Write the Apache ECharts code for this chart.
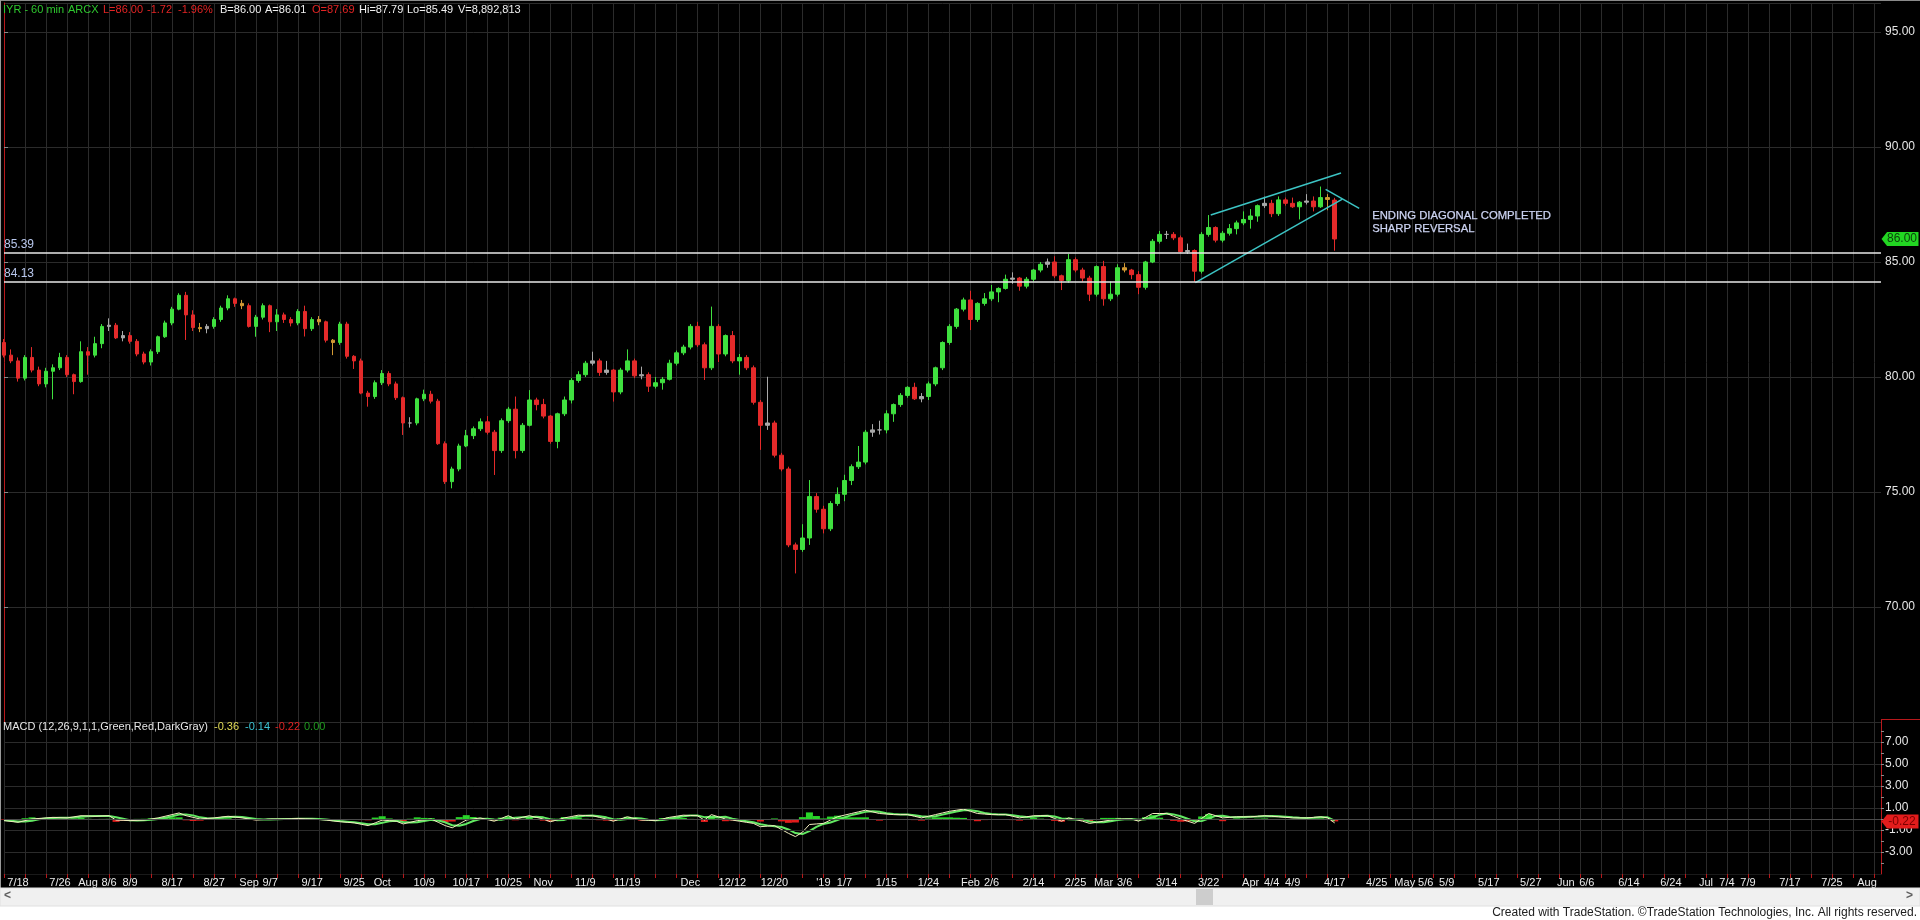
<!DOCTYPE html>
<html><head><meta charset="utf-8">
<script src="https://cdn.jsdelivr.net/npm/echarts@6/dist/echarts.min.js"></script>
<style>html,body{margin:0;padding:0;background:#000;overflow:hidden}#c{width:1920px;height:920px}</style>
</head><body><div id="c"></div>
<script>
// ---------- calendar ----------
const firstDay = '2018-07-16';
const lastAxisDay = '2019-08-05';
const marketHolidays = ['2018-09-03','2018-11-22','2018-12-05','2018-12-25','2019-01-01','2019-01-21','2019-02-18'];

// ---------- tick labels on the date axis ----------
const dateTicks = [
 ['2018-07-18','7/18'],['2018-07-26','7/26'],['2018-08-01','Aug'],['2018-08-06','8/6'],['2018-08-09','8/9'],
 ['2018-08-17','8/17'],['2018-08-27','8/27'],['2018-09-04','Sep'],['2018-09-07','9/7'],['2018-09-17','9/17'],
 ['2018-09-25','9/25'],['2018-10-01','Oct'],['2018-10-09','10/9'],['2018-10-17','10/17'],['2018-10-25','10/25'],
 ['2018-11-01','Nov'],['2018-11-09','11/9'],['2018-11-19','11/19'],['2018-12-03','Dec'],['2018-12-12','12/12'],
 ['2018-12-20','12/20'],['2019-01-02',"'19"],['2019-01-07','1/7'],['2019-01-15','1/15'],['2019-01-24','1/24'],
 ['2019-02-01','Feb'],['2019-02-06','2/6'],['2019-02-14','2/14'],['2019-02-25','2/25'],['2019-03-01','Mar'],
 ['2019-03-06','3/6'],['2019-03-14','3/14'],['2019-03-22','3/22'],['2019-04-01','Apr'],['2019-04-04','4/4'],
 ['2019-04-09','4/9'],['2019-04-17','4/17'],['2019-04-25','4/25'],['2019-05-01','May'],['2019-05-06','5/6'],
 ['2019-05-09','5/9'],['2019-05-17','5/17'],['2019-05-27','5/27'],['2019-06-03','Jun'],['2019-06-06','6/6'],
 ['2019-06-14','6/14'],['2019-06-24','6/24'],['2019-07-01','Jul'],['2019-07-04','7/4'],['2019-07-09','7/9'],
 ['2019-07-17','7/17'],['2019-07-25','7/25'],['2019-08-01','Aug']
];

// ---------- daily price bars (IYR), 2018-07-16 .. 2019-04-17 ----------
const priceOpen = [
81.50,80.95,80.70,79.95,80.85,80.30,79.70,80.25,80.40,80.85,80.10,79.80,81.10,80.95,81.45,82.20,82.25,81.70,81.80,81.55,
81.00,80.65,81.10,81.75,82.35,82.95,83.55,82.70,82.15,82.10,82.20,82.50,83.00,83.40,83.20,83.10,82.20,82.60,83.10,82.40,
82.70,82.50,82.35,82.85,82.10,82.50,82.40,81.60,81.50,82.30,80.90,80.70,79.30,79.15,79.75,80.15,79.70,79.10,78.00,78.00,
79.05,79.25,78.95,77.10,75.45,76.00,77.00,77.45,77.75,78.05,77.60,76.80,78.10,78.60,76.80,77.90,79.00,78.80,78.30,77.20,
78.40,79.00,79.85,80.10,80.60,80.70,80.20,80.30,79.35,80.30,80.70,80.05,80.10,79.60,79.75,79.90,80.60,81.05,81.30,82.20,
81.40,80.40,82.20,81.00,81.80,80.70,80.85,80.40,78.90,77.90,78.00,76.60,76.00,72.70,72.50,73.00,74.80,74.25,73.40,74.50,
74.90,75.50,76.10,76.30,77.60,77.70,77.70,78.40,78.80,79.20,79.55,79.05,79.15,79.70,80.40,81.50,82.20,82.95,83.35,82.50,
83.20,83.40,83.70,83.85,84.25,84.30,83.95,84.25,84.65,84.90,85.00,84.40,84.20,85.10,84.65,84.30,83.60,84.80,83.40,83.60,
84.75,84.65,84.45,83.90,85.00,85.90,86.20,86.20,86.05,85.45,85.50,84.60,86.20,86.50,85.95,86.25,86.45,86.70,86.85,87.00,
87.45,87.55,87.10,87.70,87.55,87.40,87.60,87.65,87.40,87.80,87.69
];
const priceHigh = [
81.65,81.20,80.85,80.95,81.30,80.45,80.40,80.55,81.05,80.95,80.15,81.55,81.30,81.75,82.30,82.55,82.35,82.00,81.95,81.65,
81.10,81.20,81.80,82.45,83.05,83.64,83.70,82.90,82.35,82.30,82.60,83.10,83.55,83.45,83.35,83.20,82.70,83.20,83.15,82.95,
82.80,82.60,82.95,83.10,82.60,82.65,82.45,81.65,82.40,82.40,80.95,80.80,79.40,79.85,80.30,80.25,79.80,79.15,78.25,79.10,
79.45,79.40,79.05,77.20,76.10,77.10,77.70,77.85,78.20,78.30,77.70,78.20,78.70,79.15,78.00,79.43,79.10,79.05,78.35,78.45,
79.15,79.95,80.25,80.70,81.10,80.80,80.70,80.35,80.40,81.20,80.80,80.45,80.20,80.00,80.00,80.75,81.15,81.40,82.30,82.40,
81.50,83.06,82.30,81.85,82.00,81.00,80.95,80.50,79.00,80.01,78.10,76.70,76.10,72.80,73.60,75.52,74.95,74.40,74.60,75.20,
75.75,76.20,77.00,77.70,77.95,78.10,78.55,78.85,79.30,79.60,79.75,79.30,79.80,80.45,81.55,82.30,83.00,83.45,83.75,83.25,
83.65,84.00,83.90,84.45,84.55,84.35,84.35,84.70,85.00,85.15,85.25,84.45,85.35,85.20,84.75,84.40,84.85,85.05,84.15,84.90,
84.95,84.70,84.60,85.05,86.00,86.35,86.35,86.30,86.15,85.80,85.55,86.30,87.04,86.55,86.35,86.65,86.80,87.20,87.30,87.50,
87.84,87.70,87.85,87.80,87.80,87.65,87.95,87.85,88.28,87.95,87.79
];
const priceLow = [
80.85,80.60,79.80,79.85,80.20,79.60,79.55,79.03,80.30,80.00,79.25,79.75,80.10,80.85,81.25,82.00,81.65,81.55,81.45,80.90,
80.55,80.50,81.00,81.70,82.25,82.90,81.61,82.00,81.95,81.90,82.10,82.40,82.90,83.05,82.95,82.15,81.75,82.50,81.95,82.00,
82.35,82.20,82.25,81.76,82.00,82.25,81.50,80.95,81.40,80.80,80.35,79.25,78.71,79.05,79.65,79.60,79.00,77.48,77.80,77.90,
78.95,78.85,77.05,75.35,75.16,75.90,76.95,77.30,77.65,77.50,75.74,76.70,78.00,76.46,76.70,77.85,78.55,78.20,77.10,76.90,
78.30,78.85,79.75,80.00,80.50,80.05,80.10,78.93,79.25,80.20,79.95,79.90,79.35,79.50,79.45,79.85,80.50,80.95,81.20,81.30,
79.87,80.30,80.65,80.90,80.60,80.10,80.30,78.80,76.83,77.70,76.50,75.90,72.60,71.46,72.40,72.70,74.10,73.20,73.30,74.40,
74.60,75.30,76.00,76.20,77.40,77.50,77.55,78.05,78.70,79.10,79.00,78.90,79.00,79.60,80.30,81.40,82.10,82.85,82.04,82.40,
83.10,83.30,83.25,83.80,84.05,83.75,83.85,84.15,84.55,84.75,84.30,83.78,84.10,84.55,84.15,83.30,83.50,83.10,83.30,83.50,
84.55,84.25,83.60,83.80,84.95,85.80,86.00,85.95,85.40,85.35,84.14,84.50,86.10,85.85,85.85,86.15,86.20,86.60,86.45,86.75,
87.35,86.95,87.00,87.45,87.35,86.85,87.50,87.20,87.35,87.25,85.49
];
const priceClose = [
80.95,80.70,79.95,80.85,80.30,79.70,80.25,80.40,80.85,80.10,79.80,81.10,80.95,81.45,82.20,82.25,81.70,81.80,81.55,81.00,
80.65,81.10,81.75,82.35,82.95,83.55,82.70,82.15,82.10,82.20,82.50,83.00,83.40,83.20,83.10,82.20,82.60,83.10,82.40,82.70,
82.50,82.35,82.85,82.10,82.50,82.40,81.60,81.50,82.30,80.90,80.70,79.30,79.15,79.75,80.15,79.70,79.10,78.00,78.00,79.05,
79.25,78.95,77.10,75.45,76.00,77.00,77.45,77.75,78.05,77.60,76.80,78.10,78.60,76.80,77.90,79.00,78.80,78.30,77.20,78.40,
79.00,79.85,80.10,80.60,80.70,80.20,80.30,79.35,80.30,80.70,80.05,80.10,79.60,79.75,79.90,80.60,81.05,81.30,82.20,81.40,
80.40,82.20,81.00,81.80,80.70,80.85,80.40,78.90,77.90,78.00,76.60,76.00,72.70,72.50,73.00,74.80,74.25,73.40,74.50,74.90,
75.50,76.10,76.30,77.60,77.70,77.70,78.40,78.80,79.20,79.55,79.05,79.15,79.70,80.40,81.50,82.20,82.95,83.35,82.50,83.20,
83.40,83.70,83.85,84.25,84.30,83.95,84.25,84.65,84.90,85.00,84.40,84.20,85.10,84.65,84.30,83.60,84.80,83.40,83.60,84.75,
84.65,84.45,83.90,85.00,85.90,86.20,86.20,86.05,85.45,85.50,84.60,86.20,86.50,85.95,86.25,86.45,86.70,86.85,87.00,87.45,
87.55,87.10,87.70,87.55,87.40,87.60,87.65,87.40,87.80,87.72,86.00
];

// ---------- MACD (12,26,9) panel, read per day ----------
const macdLine = [
-0.15,-0.22,-0.30,-0.15,0.00,0.05,0.10,0.15,0.12,0.10,0.20,0.30,0.28,0.25,0.28,0.30,-0.10,-0.12,-0.15,-0.12,
-0.10,0.00,0.10,0.25,0.40,0.55,0.30,0.15,0.00,0.05,0.10,0.18,0.25,0.18,0.10,0.00,-0.10,-0.05,0.00,0.00,
0.00,0.02,0.05,0.02,0.00,-0.05,-0.10,-0.18,-0.25,-0.30,-0.35,-0.48,-0.60,-0.35,-0.10,-0.15,-0.20,-0.45,-0.30,-0.15,
-0.08,0.00,-0.30,-0.60,-0.80,-0.45,-0.10,0.00,0.10,-0.05,-0.20,0.05,0.30,0.00,0.15,0.30,0.15,0.00,-0.25,-0.08,
0.10,0.22,0.35,0.32,0.30,0.15,0.00,-0.20,0.00,0.20,0.05,-0.10,-0.12,-0.15,0.00,0.15,0.25,0.35,0.32,0.30,
-0.10,0.40,0.20,0.00,-0.10,-0.20,-0.30,-0.40,-0.70,-0.65,-0.60,-0.95,-1.30,-1.60,-1.20,-0.50,-0.45,-0.40,-0.10,0.20,
0.35,0.50,0.65,0.80,0.65,0.50,0.45,0.40,0.40,0.40,0.25,0.10,0.25,0.40,0.55,0.70,0.80,0.90,0.70,0.50,
0.45,0.40,0.40,0.40,0.25,0.10,0.20,0.30,0.30,0.30,0.05,-0.20,0.10,-0.05,-0.20,-0.40,-0.30,-0.20,-0.10,0.00,
0.00,0.00,-0.20,0.15,0.50,0.50,0.50,0.25,0.00,-0.20,-0.40,0.05,0.50,0.30,0.10,0.15,0.20,0.20,0.20,0.25,
0.30,0.25,0.20,0.15,0.10,0.10,0.10,0.15,0.20,0.10,-0.36
];
const macdAvg = [
-0.10,-0.15,-0.22,-0.22,-0.15,-0.03,0.05,0.10,0.12,0.12,0.14,0.20,0.26,0.28,0.27,0.28,0.16,0.03,-0.12,-0.13,
-0.12,-0.07,0.00,0.12,0.25,0.40,0.42,0.33,0.15,0.07,0.05,0.11,0.18,0.20,0.18,0.09,0.00,-0.05,-0.05,-0.02,
0.00,0.01,0.02,0.03,0.02,-0.01,-0.05,-0.11,-0.18,-0.24,-0.30,-0.38,-0.48,-0.48,-0.35,-0.20,-0.15,-0.27,-0.32,-0.30,
-0.18,-0.08,-0.13,-0.30,-0.57,-0.62,-0.45,-0.18,0.00,0.02,-0.05,-0.07,0.05,0.12,0.15,0.15,0.20,0.15,-0.03,-0.11,
-0.08,0.08,0.22,0.30,0.32,0.26,0.15,-0.02,-0.07,0.00,0.08,0.05,-0.06,-0.12,-0.09,0.00,0.13,0.25,0.31,0.32,
0.17,0.20,0.17,0.20,0.03,-0.10,-0.20,-0.30,-0.47,-0.58,-0.65,-0.73,-0.95,-1.28,-1.37,-1.10,-0.72,-0.45,-0.32,-0.10,
0.15,0.35,0.50,0.65,0.70,0.65,0.53,0.45,0.42,0.40,0.35,0.25,0.20,0.25,0.40,0.55,0.68,0.80,0.80,0.70,
0.55,0.45,0.42,0.40,0.35,0.25,0.18,0.20,0.27,0.30,0.22,0.05,-0.02,-0.05,-0.05,-0.22,-0.30,-0.30,-0.20,-0.10,
-0.03,0.00,-0.07,-0.02,0.15,0.38,0.50,0.42,0.25,0.02,-0.20,-0.18,0.05,0.28,0.30,0.18,0.15,0.18,0.20,0.22,
0.25,0.27,0.25,0.20,0.15,0.12,0.10,0.12,0.15,0.15,-0.14
];
const macdDiff = [
-0.05,-0.07,-0.08,0.07,0.15,0.08,0.05,0.05,0.00,-0.02,0.06,0.10,0.02,-0.03,0.01,0.02,-0.26,-0.15,-0.03,0.01,
0.02,0.07,0.10,0.13,0.15,0.15,-0.12,-0.18,-0.15,-0.02,0.05,0.07,0.07,-0.02,-0.08,-0.09,-0.10,0.00,0.05,0.02,
0.00,0.01,0.03,-0.01,-0.02,-0.04,-0.05,-0.07,-0.07,-0.06,-0.05,-0.10,-0.12,0.13,0.25,0.05,-0.05,-0.18,0.02,0.15,
0.10,0.08,-0.17,-0.30,-0.23,0.17,0.35,0.18,0.10,-0.07,-0.15,0.12,0.25,-0.12,0.00,0.15,-0.05,-0.15,-0.22,0.03,
0.18,0.14,0.13,0.02,-0.02,-0.11,-0.15,-0.18,0.07,0.20,-0.03,-0.15,-0.06,-0.03,0.09,0.15,0.12,0.10,0.01,-0.02,
-0.27,0.20,0.03,-0.20,-0.13,-0.10,-0.10,-0.10,-0.23,-0.07,0.05,-0.22,-0.35,-0.32,0.17,0.60,0.27,0.05,0.22,0.30,
0.20,0.15,0.15,0.15,-0.05,-0.15,-0.08,-0.05,-0.02,0.00,-0.10,-0.15,0.05,0.15,0.15,0.15,0.12,0.10,-0.10,-0.20,
-0.10,-0.05,-0.02,0.00,-0.10,-0.15,0.02,0.10,0.03,0.00,-0.17,-0.25,0.12,0.00,-0.15,-0.18,0.00,0.10,0.10,0.10,
0.03,0.00,-0.13,0.17,0.35,0.12,0.00,-0.17,-0.25,-0.22,-0.20,0.23,0.45,0.02,-0.20,-0.03,0.05,0.02,0.00,0.03,
0.05,-0.02,-0.05,-0.05,-0.05,-0.02,0.00,0.03,0.05,-0.05,-0.22
];
const macdGridLevels = [-3,-1,1,3,5,7];

// ---------- drawn studies (day index along the axis, price) ----------
const supportLevels = [85.39, 84.13];
const lastPrice = 86.00;
const lastMacdDiff = -0.22;
const trendUpper = [[172.3, 87.04], [190.9, 88.87]];
const trendLower = [[170.1, 84.10], [191.1, 87.73]];
const trendBreak = [[188.7, 88.16], [193.5, 87.33]];

// ---------- texts ----------
const headerTokens = [
 ['IYR - 60 min', '#2ec82e', 3], ['ARCX', '#2ec82e', 68], ['L=86.00', '#e42424', 103], ['-1.72', '#e42424', 147],
 ['-1.96%', '#e42424', 178], ['B=86.00', '#f0f0f0', 220], ['A=86.01', '#f0f0f0', 265], ['O=87.69', '#e42424', 312],
 ['Hi=87.79', '#f0f0f0', 359], ['Lo=85.49', '#f0f0f0', 407], ['V=8,892,813', '#f0f0f0', 458]
];
const macdTokens = [
 ['MACD (12,26,9,1,1,Green,Red,DarkGray)', '#e6e6e6', 3], ['-0.36', '#e0da56', 214], ['-0.14', '#3cc4d4', 245],
 ['-0.22', '#e02222', 275], ['0.00', '#1f9a1f', 304]
];
const noteLines = ['ENDING DIAGONAL COMPLETED', 'SHARP REVERSAL'];
const footerText = 'Created with TradeStation. \u00A9TradeStation Technologies, Inc. All rights reserved.';

// ---------- build ----------
function buildDays() {
  const out = [];
  const [y0, m0, d0] = firstDay.split('-').map(Number);
  const [y1, m1, d1] = lastAxisDay.split('-').map(Number);
  let t = Date.UTC(y0, m0 - 1, d0);
  const end = Date.UTC(y1, m1 - 1, d1);
  while (t <= end) {
    const dt = new Date(t);
    const wd = dt.getUTCDay();
    const s = dt.toISOString().slice(0, 10);
    if (wd !== 0 && wd !== 6 && marketHolidays.indexOf(s) < 0) out.push(s);
    t += 86400000;
  }
  return out;
}
const days = buildDays();
const lastIdx = days.length - 1;
const tickMap = {};
dateTicks.forEach(([d, l]) => { tickMap[d] = l; });

const UP = '#3fe03f', DOWN = '#e42a2a', FLAT_UP = '#a9a9a9', FLAT_DN = '#d39a34';
const candleData = priceOpen.map((o, i) => {
  const c = priceClose[i];
  const item = { value: [o, c, priceLow[i], priceHigh[i]] };
  if (Math.abs(c - o) < 0.12) {
    const col = c >= o ? FLAT_UP : FLAT_DN;
    item.itemStyle = { color: col, color0: col, borderColor: col, borderColor0: col };
  }
  return item;
});

const FONT = 'Liberation Sans, Arial, sans-serif';
const GRID_COLOR = '#2b2b2b';
const AXIS_RED = '#b8191c';
const TAG_PATH = 'path://M0,6.5 L6,0 L40,0 L40,13 L6,13 Z';
const gridEvery3 = (idx) => idx % 3 === 0;

function priceTag(value, fill, textColor) {
  return {
    coord: [days[lastIdx], value], symbol: TAG_PATH, symbolSize: [37, 14], symbolOffset: [19, 0],
    itemStyle: { color: fill },
    label: { show: true, position: 'inside', offset: [2, 0], formatter: value.toFixed(2), color: textColor,
      fontSize: 12, fontFamily: FONT }
  };
}

const graphics = [];
headerTokens.forEach(([t, c, x]) => graphics.push({ type: 'text', left: x, top: 4, z: 100,
  style: { text: t, fill: c, font: '11px ' + FONT } }));
macdTokens.forEach(([t, c, x]) => graphics.push({ type: 'text', left: x, top: 721, z: 100,
  style: { text: t, fill: c, font: '11px ' + FONT } }));
noteLines.forEach((t, i) => graphics.push({ type: 'text', left: 1372, top: 210 + i * 13, z: 100,
  style: { text: t, fill: '#ccd3f2', font: '11.3px ' + FONT, stroke: '#ccd3f2', lineWidth: 0.25 } }));
// window chrome: borders, scrollbar, footer
graphics.push({ type: 'rect', shape: { x: 0, y: 0, width: 1920, height: 1 }, style: { fill: '#8a8a8a' }, z: 90 });
graphics.push({ type: 'rect', shape: { x: 0, y: 0, width: 1, height: 888 }, style: { fill: '#9a9a9a' }, z: 90 });
graphics.push({ type: 'rect', shape: { x: 1881, y: 719, width: 39, height: 1 }, style: { fill: AXIS_RED }, z: 90 });
graphics.push({ type: 'rect', shape: { x: 0, y: 888, width: 1920, height: 32 }, style: { fill: '#ffffff' }, z: 90 });
graphics.push({ type: 'rect', shape: { x: 0, y: 888, width: 1920, height: 18 }, style: { fill: '#f0f0f0', stroke: '#e0e0e0' }, z: 91 });
graphics.push({ type: 'rect', shape: { x: 1196, y: 889, width: 17, height: 16 }, style: { fill: '#cdcdcd' }, z: 92 });
graphics.push({ type: 'text', left: 4, top: 890, z: 92, style: { text: '<', fill: '#606060', font: 'bold 12px ' + FONT } });
graphics.push({ type: 'text', left: 1906, top: 890, z: 92, style: { text: '>', fill: '#606060', font: 'bold 12px ' + FONT } });
graphics.push({ type: 'text', right: 3, top: 907, z: 92, style: { text: footerText, fill: '#202020', font: '12px ' + FONT } });

const option = {
  backgroundColor: '#000000',
  animation: false,
  textStyle: { fontFamily: FONT },
  grid: [
    { left: 4, right: 39, top: 3, height: 719 },
    { left: 4, right: 39, top: 720, height: 154 }
  ],
  xAxis: [
    { type: 'category', gridIndex: 0, data: days, boundaryGap: false,
      axisLine: { show: false, onZero: false }, axisTick: { show: false }, axisLabel: { show: false },
      splitLine: { show: true, interval: gridEvery3, lineStyle: { color: GRID_COLOR, width: 1 } } },
    { type: 'value', gridIndex: 0, min: 0, max: lastIdx, show: false },
    { type: 'category', gridIndex: 1, data: days, boundaryGap: false, position: 'bottom',
      axisLine: { show: true, onZero: false, lineStyle: { color: '#1a1a1a' } },
      axisTick: { show: true, interval: gridEvery3, length: 4, inside: false, lineStyle: { color: AXIS_RED } },
      axisLabel: { show: true, interval: (i, v) => tickMap[v] !== undefined, formatter: (v) => tickMap[v] || '',
        color: '#ececec', fontSize: 11, margin: 3, fontFamily: FONT },
      splitLine: { show: true, interval: gridEvery3, lineStyle: { color: GRID_COLOR, width: 1 } } }
  ],
  yAxis: [
    { type: 'value', gridIndex: 0, position: 'right', min: 65, max: 96.26, interval: 5,
      axisLine: { show: true, lineStyle: { color: AXIS_RED, width: 1 } },
      axisTick: { show: true, length: 4, lineStyle: { color: '#8a8a8a' } },
      axisLabel: { color: '#e6e6e6', fontSize: 12, margin: 4, showMinLabel: false, showMaxLabel: false,
        formatter: (v) => v.toFixed(2) },
      splitLine: { show: true, lineStyle: { color: GRID_COLOR, width: 1 } } },
    { type: 'value', gridIndex: 1, position: 'right', min: -5, max: 9, interval: 1,
      axisLine: { show: true, lineStyle: { color: AXIS_RED, width: 1 } },
      axisTick: { show: true, length: 3, lineStyle: { color: '#8a8a8a' } },
      axisLabel: { color: '#e6e6e6', fontSize: 12, margin: 4, showMinLabel: false, showMaxLabel: false,
        formatter: (v) => (macdGridLevels.indexOf(v) >= 0 ? v.toFixed(2) : '') },
      splitLine: { show: false } }
  ],
  graphic: graphics,
  series: [
    { type: 'candlestick', name: 'IYR', xAxisIndex: 0, yAxisIndex: 0, data: candleData, barWidth: 4,
      itemStyle: { color: UP, color0: DOWN, borderColor: UP, borderColor0: DOWN, borderWidth: 1 },
      markLine: { silent: true, symbol: ['none', 'none'], animation: false,
        data: supportLevels.map((v) => ({ yAxis: v, lineStyle: { color: '#e8e8e8', width: 1.5, type: 'solid' },
          label: { show: true, position: 'insideStartTop', formatter: v.toFixed(2), color: '#b7c6ec',
            fontSize: 12, fontFamily: FONT, distance: [0, 2] } })) },
      markPoint: { silent: true, animation: false, data: [priceTag(lastPrice, '#22d622', '#0c420c')] } },
    { type: 'line', name: 'upper', xAxisIndex: 1, yAxisIndex: 0, data: trendUpper, symbol: 'none',
      lineStyle: { color: '#3cc4c4', width: 1.5 }, silent: true },
    { type: 'line', name: 'lower', xAxisIndex: 1, yAxisIndex: 0, data: trendLower, symbol: 'none',
      lineStyle: { color: '#3cc4c4', width: 1.5 }, silent: true },
    { type: 'line', name: 'break', xAxisIndex: 1, yAxisIndex: 0, data: trendBreak, symbol: 'none',
      lineStyle: { color: '#3cc4c4', width: 1.5 }, silent: true },
    { type: 'bar', name: 'MACDDiff', xAxisIndex: 2, yAxisIndex: 1, data: macdDiff, barWidth: 7,
      itemStyle: { color: (p) => (p.value >= 0 ? '#2ad42a' : '#e01c1c') },
      markLine: { silent: true, symbol: ['none', 'none'], animation: false,
        data: [
          ...macdGridLevels.map((v) => ({ yAxis: v, lineStyle: { color: GRID_COLOR, width: 1, type: 'solid' }, label: { show: false } })),
          { yAxis: 0, lineStyle: { color: '#4a4a4a', width: 1, type: 'solid' }, label: { show: false } }
        ] },
      markPoint: { silent: true, animation: false, data: [priceTag(lastMacdDiff, '#e41c1c', '#7a0000')] } },
    { type: 'line', name: 'MACDAvg', xAxisIndex: 2, yAxisIndex: 1, data: macdAvg, symbol: 'none',
      lineStyle: { color: '#62e862', width: 2 }, silent: true },
    { type: 'line', name: 'MACD', xAxisIndex: 2, yAxisIndex: 1, data: macdLine, symbol: 'none',
      lineStyle: { color: '#f2eec0', width: 1 }, silent: true }
  ]
};
const chart = echarts.init(document.getElementById('c'), null, { width: 1920, height: 920 });
chart.setOption(option);
</script>
</body></html>
